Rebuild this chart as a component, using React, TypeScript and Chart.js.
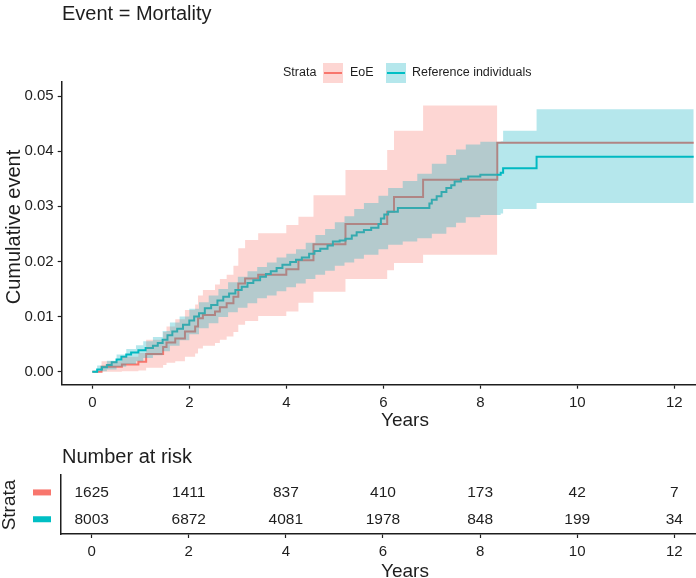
import React, { useEffect, useRef } from "react";
import { Chart, registerables } from "chart.js";

Chart.register(...registerables);

const FONT = '"Liberation Sans", Arial, Helvetica, sans-serif';
const INK = "#1e1e1e";
const RED = "#F8766D";
const TEAL = "#00BFC4";
const RED_BAND = "rgba(248,118,109,0.3)";
const TEAL_BAND = "rgba(0,172,190,0.29)";

// ---------- text ----------
const plotTitle = "Event = Mortality";
const legendTitle = "Strata";
const strataNames = ["EoE", "Reference individuals"];
const xTitle = "Years";
const yTitle = "Cumulative event";
const tableTitle = "Number at risk";

// ---------- ticks ----------
const xTicks = [0, 2, 4, 6, 8, 10, 12];
const yTicks = [0, 0.01, 0.02, 0.03, 0.04, 0.05];

// ---------- EoE (red) ----------
const eoeTimes = [0, 0.19, 0.61, 0.95, 1.11, 1.46, 1.53, 1.71, 1.91, 2.12, 2.18, 2.28, 2.53, 2.63, 2.77, 2.91, 3.01, 3.15, 3.42, 4.0, 4.25, 4.56, 5.22, 6.08, 6.22, 6.82, 8.35];
const eoeEst = [0, 0.0009, 0.0013, 0.0018, 0.0032, 0.0045, 0.0053, 0.006, 0.0073, 0.0082, 0.0097, 0.0103, 0.0109, 0.0117, 0.0124, 0.0136, 0.016, 0.0169, 0.0176, 0.0186, 0.0202, 0.0231, 0.0268, 0.029, 0.0317, 0.0348, 0.0415];
const eoeUpper = [0, 0.0019, 0.0027, 0.0034, 0.0058, 0.0072, 0.0082, 0.0095, 0.0112, 0.0122, 0.0138, 0.0148, 0.0158, 0.0168, 0.0176, 0.0192, 0.0224, 0.0239, 0.0251, 0.0266, 0.0281, 0.032, 0.0366, 0.0402, 0.0437, 0.0483, 0.0483];
const eoeLower = [0, 0.0, 0.0001, 0.0002, 0.0007, 0.0012, 0.0016, 0.0019, 0.0027, 0.0033, 0.0042, 0.0047, 0.0052, 0.0058, 0.0064, 0.0072, 0.0085, 0.0092, 0.0101, 0.0109, 0.0125, 0.0145, 0.0168, 0.0184, 0.0197, 0.0212, 0.0212];
const eoeLastFollowUp = 12.4;

// ---------- Reference individuals (teal) ----------
const refTimes = [0, 0.1, 0.2, 0.3, 0.4, 0.5, 0.6, 0.7, 0.8, 0.95, 1.1, 1.25, 1.35, 1.45, 1.55, 1.65, 1.75, 1.87, 2.0, 2.1, 2.2, 2.32, 2.45, 2.58, 2.7, 2.82, 2.95, 3.08, 3.2, 3.32, 3.46, 3.58, 3.68, 3.8, 3.92, 4.08, 4.2, 4.32, 4.47, 4.58, 4.7, 4.85, 4.96, 5.1, 5.22, 5.35, 5.45, 5.6, 5.75, 5.9, 5.95, 6.02, 6.1, 6.3, 6.95, 7.0, 7.1, 7.2, 7.3, 7.4, 7.47, 7.6, 7.75, 8.0, 8.42, 8.47, 9.16, 12.4];
const refEst = [0, 0.0004, 0.0008, 0.0012, 0.0017, 0.0022, 0.0027, 0.0031, 0.0035, 0.0039, 0.0043, 0.0047, 0.0052, 0.0058, 0.0066, 0.0073, 0.0078, 0.0085, 0.0093, 0.01, 0.0106, 0.0115, 0.0121, 0.0129, 0.0136, 0.0142, 0.0148, 0.0154, 0.0161, 0.0166, 0.0172, 0.0177, 0.0182, 0.0188, 0.0194, 0.0199, 0.0203, 0.0207, 0.0214, 0.0219, 0.0223, 0.0229, 0.0236, 0.0238, 0.0241, 0.0247, 0.0253, 0.0257, 0.0261, 0.0268, 0.0278, 0.0285, 0.029, 0.0297, 0.0305, 0.0312, 0.0318, 0.0326, 0.0333, 0.0338, 0.0345, 0.035, 0.0354, 0.0357, 0.0361, 0.0369, 0.039, 0.039];
const refBandTimes = [0, 0.1, 0.3, 0.5, 0.7, 0.9, 1.05, 1.25, 1.45, 1.6, 1.8, 2.0, 2.2, 2.4, 2.6, 2.8, 3.0, 3.2, 3.4, 3.6, 3.8, 4.0, 4.2, 4.4, 4.6, 4.8, 5.0, 5.2, 5.4, 5.6, 5.9, 6.1, 6.4, 6.7, 7.0, 7.3, 7.5, 7.7, 8.0, 8.42, 8.47, 9.16, 12.4];
const refLower = [0, 0.0001, 0.0004, 0.0009, 0.0014, 0.0019, 0.0025, 0.003, 0.0037, 0.0047, 0.0057, 0.0068, 0.0079, 0.0088, 0.0099, 0.0108, 0.0116, 0.0124, 0.0133, 0.0138, 0.0146, 0.0153, 0.016, 0.0168, 0.0176, 0.0183, 0.0192, 0.0198, 0.0205, 0.0212, 0.0222, 0.023, 0.0236, 0.0242, 0.025, 0.0262, 0.027, 0.028, 0.0284, 0.0287, 0.0295, 0.0306, 0.0306];
const refUpper = [0, 0.0011, 0.002, 0.0031, 0.0041, 0.0048, 0.0055, 0.0063, 0.0074, 0.0089, 0.01, 0.0114, 0.0126, 0.0138, 0.015, 0.0162, 0.0172, 0.0182, 0.019, 0.0198, 0.0207, 0.0214, 0.0222, 0.0234, 0.0248, 0.0259, 0.0271, 0.0282, 0.0295, 0.0306, 0.0319, 0.0333, 0.0346, 0.0359, 0.0377, 0.0393, 0.0403, 0.0412, 0.0417, 0.0418, 0.0437, 0.0476, 0.0476];

// ---------- risk table ----------
const riskTimes = [0, 2, 4, 6, 8, 10, 12];
const riskEoE = [1625, 1411, 837, 410, 173, 42, 7];
const riskRef = [8003, 6872, 4081, 1978, 848, 199, 34];

const X_MIN = -0.631;
const X_MAX = 12.447;

const pts = (xs: number[], ys: number[]) => xs.map((x, i) => ({ x, y: ys[i] }));

const xScale = (height: number) => ({
  type: "linear" as const,
  min: X_MIN,
  max: X_MAX,
  afterBuildTicks: (axis: any) => {
    axis.ticks = xTicks.map((v) => ({ value: v }));
  },
  afterFit: (axis: any) => {
    axis.height = height;
  },
  grid: { display: true, drawOnChartArea: false, drawTicks: true, tickLength: 4, tickColor: INK, tickWidth: 1.2, color: INK },
  border: { display: true, color: INK, width: 1.5 },
  ticks: { autoSkip: false, maxRotation: 0, padding: 5, color: INK, font: { family: FONT, size: 15 }, callback: (v: any) => String(v) },
});

function useChart(ref: React.RefObject<HTMLCanvasElement>, build: () => any) {
  useEffect(() => {
    if (!ref.current) return;
    const chart = new Chart(ref.current, build());
    return () => chart.destroy();
  }, []);
}

export default function App() {
  const topRef = useRef<HTMLCanvasElement>(null);
  const tableRef = useRef<HTMLCanvasElement>(null);

  useChart(topRef, () => {
    const textPlugin = {
      id: "topText",
      afterDraw(chart: any) {
        const ctx = chart.ctx;
        ctx.save();
        ctx.fillStyle = INK;
        ctx.textBaseline = "middle";
        // title
        ctx.font = `20px ${FONT}`;
        ctx.textAlign = "left";
        ctx.fillText(plotTitle, 62, 14);
        // legend
        const ly = 73;
        ctx.font = `12.5px ${FONT}`;
        ctx.fillText(legendTitle, 283, ly);
        const keys = [
          { x: 323, band: RED_BAND, line: RED, label: strataNames[0], tx: 350 },
          { x: 386, band: TEAL_BAND, line: TEAL, label: strataNames[1], tx: 412 },
        ];
        keys.forEach((k) => {
          ctx.fillStyle = k.band;
          ctx.fillRect(k.x, ly - 10, 20, 20);
          ctx.strokeStyle = k.line;
          ctx.lineWidth = 2;
          ctx.beginPath();
          ctx.moveTo(k.x + 1, ly);
          ctx.lineTo(k.x + 19, ly);
          ctx.stroke();
          ctx.fillStyle = INK;
          ctx.fillText(k.label, k.tx, ly);
        });
        // axis titles
        ctx.font = `19px ${FONT}`;
        ctx.textAlign = "center";
        ctx.fillText(xTitle, 405, 421);
        ctx.font = `20px ${FONT}`;
        ctx.translate(14, 227);
        ctx.rotate(-Math.PI / 2);
        ctx.fillText(yTitle, 0, 0);
        ctx.restore();
      },
    };
    const band = (data: any, color: string, fill: any, order: number) => ({
      data,
      stepped: true,
      fill,
      backgroundColor: color,
      borderColor: "rgba(0,0,0,0)",
      borderWidth: 0,
      pointRadius: 0,
      order,
    });
    return {
      type: "line",
      data: {
        datasets: [
          band(pts(refBandTimes, refUpper), TEAL_BAND, "+1", 0),
          band(pts(refBandTimes, refLower), TEAL_BAND, false, 0),
          band(pts(eoeTimes, eoeUpper), RED_BAND, "+1", 1),
          band(pts(eoeTimes, eoeLower), RED_BAND, false, 1),
          {
            label: strataNames[1],
            data: pts(refTimes, refEst),
            stepped: true,
            borderColor: TEAL,
            borderWidth: 2,
            pointRadius: 0,
            fill: false,
            order: 2,
          },
          {
            label: strataNames[0],
            data: pts([...eoeTimes, eoeLastFollowUp], [...eoeEst, eoeEst[eoeEst.length - 1]]),
            stepped: true,
            borderColor: RED,
            borderWidth: 2,
            pointRadius: 0,
            fill: false,
            order: 2,
          },
        ],
      },
      options: {
        responsive: false,
        animation: false,
        devicePixelRatio: 1,
        events: [],
        layout: { padding: { top: 82, right: 0, left: 0, bottom: 0 } },
        plugins: { legend: { display: false }, tooltip: { enabled: false }, title: { display: false } },
        scales: {
          x: xScale(440 - 384.7),
          y: {
            type: "linear",
            min: -0.00236,
            max: 0.05254,
            afterBuildTicks: (axis: any) => {
              axis.ticks = yTicks.map((v) => ({ value: v }));
            },
            afterFit: (axis: any) => {
              axis.width = 61.7;
            },
            grid: { display: true, drawOnChartArea: false, drawTicks: true, tickLength: 4, tickColor: INK, tickWidth: 1.2, color: INK },
            border: { display: true, color: INK, width: 1.5 },
            ticks: { padding: 4, color: INK, font: { family: FONT, size: 15 }, callback: (v: any) => Number(v).toFixed(2) },
          },
        },
      },
      plugins: [textPlugin],
    };
  });

  useChart(tableRef, () => {
    const tablePlugin = {
      id: "tableText",
      afterDraw(chart: any) {
        const ctx = chart.ctx;
        const xs = chart.scales.x;
        const ys = chart.scales.y;
        ctx.save();
        ctx.fillStyle = INK;
        ctx.textBaseline = "middle";
        ctx.textAlign = "left";
        ctx.font = `20px ${FONT}`;
        ctx.fillText(tableTitle, 62, 17);
        const rows = [
          { y: 2, vals: riskEoE, color: RED },
          { y: 1, vals: riskRef, color: TEAL },
        ];
        ctx.font = `15.5px ${FONT}`;
        ctx.textAlign = "center";
        rows.forEach((r) => {
          const py = ys.getPixelForValue(r.y);
          riskTimes.forEach((t, i) => {
            ctx.fillStyle = INK;
            ctx.fillText(String(r.vals[i]), xs.getPixelForValue(t), py);
          });
          ctx.fillStyle = r.color;
          ctx.fillRect(33, py - 3, 18, 6);
        });
        ctx.fillStyle = INK;
        ctx.font = `19px ${FONT}`;
        ctx.fillText(xTitle, 405, 132);
        ctx.translate(10, 65);
        ctx.rotate(-Math.PI / 2);
        ctx.fillText(legendTitle, 0, 0);
        ctx.restore();
      },
    };
    return {
      type: "line",
      data: {
        datasets: [
          { label: strataNames[0], data: riskTimes.map((t) => ({ x: t, y: 2 })), showLine: false, pointRadius: 0 },
          { label: strataNames[1], data: riskTimes.map((t) => ({ x: t, y: 1 })), showLine: false, pointRadius: 0 },
        ],
      },
      options: {
        responsive: false,
        animation: false,
        devicePixelRatio: 1,
        events: [],
        layout: { padding: { top: 35, right: 0, left: 0, bottom: 0 } },
        plugins: { legend: { display: false }, tooltip: { enabled: false }, title: { display: false } },
        scales: {
          x: xScale(578 - 534),
          y: {
            type: "linear",
            min: 0.45,
            max: 2.65,
            afterFit: (axis: any) => {
              axis.width = 61;
            },
            grid: { display: false },
            border: { display: true, color: INK, width: 1.5 },
            ticks: { display: false },
          },
        },
      },
      plugins: [tablePlugin],
    };
  });

  return (
    <div style={{ position: "fixed", left: 0, top: 0, width: 696, height: 578, overflow: "hidden", background: "#fff" }}>
      <canvas ref={topRef} width={696} height={440} style={{ position: "absolute", left: 0, top: 0, width: 696, height: 440 }} />
      <canvas ref={tableRef} width={696} height={138} style={{ position: "absolute", left: 0, top: 440, width: 696, height: 138 }} />
    </div>
  );
}
